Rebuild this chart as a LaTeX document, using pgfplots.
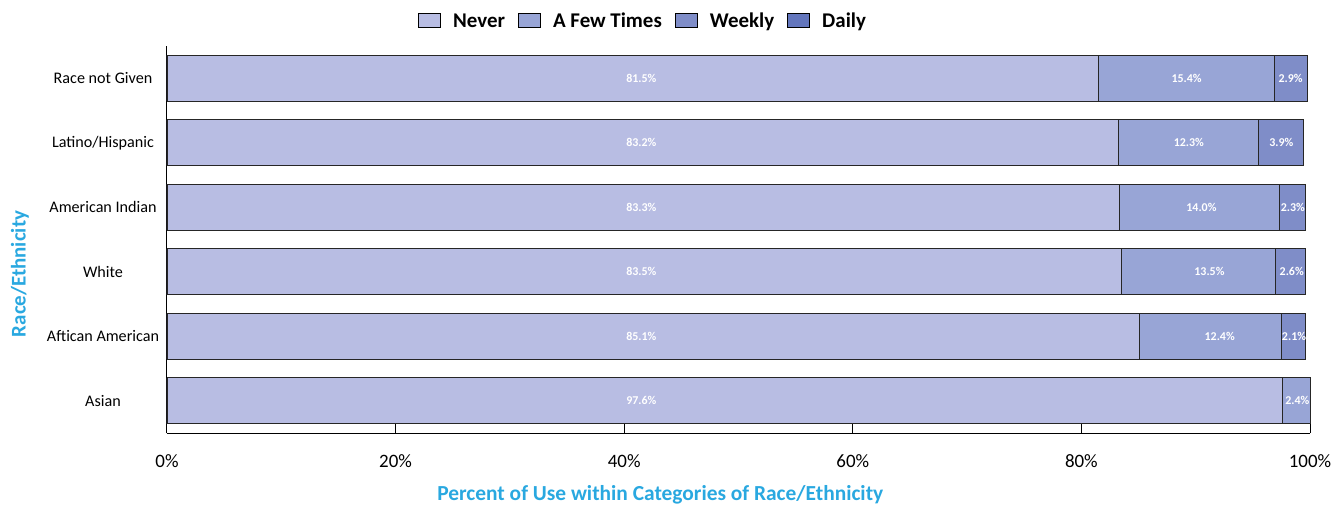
\documentclass[border=0pt]{standalone}
\usepackage{fontspec}
\setmainfont{Carlito}
\usepackage{pgfplots}
\usepackage{pgfplotstable}
\pgfplotsset{compat=1.18}

\definecolor{cNever}{HTML}{B8BDE3}
\definecolor{cFew}{HTML}{98A5D6}
\definecolor{cWeekly}{HTML}{7F8DC8}
\definecolor{cDaily}{HTML}{6376BD}
\definecolor{cBlue}{HTML}{29A8E0}

% y: 0 Asian, 1 Aftican American, 2 White, 3 American Indian, 4 Latino/Hispanic, 5 Race not Given
\pgfplotstableread{
y never few weekly
0 97.6 2.4 0
1 85.1 12.4 2.1
2 83.5 13.5 2.6
3 83.3 14.0 2.3
4 83.2 12.3 3.9
5 81.5 15.4 2.9
}\maintable

\pgfplotstableread{
x y lab
41.5 0 97.6\%
98.9 0 2.4\%
41.5 1 85.1\%
92.1 1 12.4\%
98.6 1 2.1\%
41.5 2 83.5\%
91.2 2 13.5\%
98.4 2 2.6\%
41.5 3 83.3\%
90.5 3 14.0\%
98.5 3 2.3\%
41.5 4 83.2\%
89.4 4 12.3\%
97.5 4 3.9\%
41.5 5 81.5\%
89.2 5 15.4\%
98.3 5 2.9\%
}\labeltable

\begin{document}
\begin{tikzpicture}
\begin{axis}[
  at={(0,0)}, anchor=south west,
  scale only axis, width=1143bp, height=387bp,
  xbar stacked, bar width=46bp, clip=false,
  xmin=0, xmax=100, ymin=-0.5, ymax=5.5,
  axis x line*=bottom, axis y line*=left,
  axis line style={black, line width=1bp},
  xtick={0,20,40,60,80,100},
  xticklabels={0\%,20\%,40\%,60\%,80\%,100\%},
  xticklabel style={anchor=center, yshift=-28bp, font=\fontsize{19}{22}\selectfont},
  xtick style={draw=black, line width=1bp},
  major tick length=9bp, tick align=inside,
  ytick={0,1,2,3,4,5},
  yticklabels={Asian,Aftican American,White,American Indian,Latino/Hispanic,Race not Given},
  yticklabel style={anchor=center, xshift=-64bp, font=\fontsize{16.2}{19}\selectfont},
  ytick style={draw=none},
  xlabel={Percent of Use within Categories of Race/Ethnicity},
  xlabel style={at={(axis description cs:0.4316,0)}, anchor=center, yshift=-62bp,
    font=\fontsize{21.5}{25}\selectfont\bfseries, text=cBlue},
  ylabel={Race/Ethnicity},
  ylabel style={at={(axis description cs:-0.1286,0.411)}, anchor=center,
    font=\fontsize{21}{25}\selectfont\bfseries, text=cBlue},
  legend style={at={(axis description cs:0.4165,1.0646)}, anchor=center, draw=none,
    legend columns=4, font=\fontsize{21}{25}\selectfont\bfseries,
    /tikz/every odd column/.append style={column sep=10bp},
    /tikz/every even column/.append style={column sep=11bp}},
  legend image code/.code={\draw[#1, draw=black, line width=1bp] (0bp,-7bp) rectangle (22bp,7bp);},
]
\addplot[fill=cNever, draw=black!85, line width=0.8bp] table[x=never, y=y]{\maintable};
\addlegendentry{Never\hspace{12bp}}
\addplot[fill=cFew, draw=black!85, line width=0.8bp] table[x=few, y=y]{\maintable};
\addlegendentry{A Few Times}
\addplot[fill=cWeekly, draw=black!85, line width=0.8bp] table[x=weekly, y=y]{\maintable};
\addlegendentry{Weekly}
\addlegendimage{fill=cDaily}
\addlegendentry{Daily}
\end{axis}
\begin{axis}[
  at={(0,0)}, anchor=south west,
  scale only axis, width=1143bp, height=387bp,
  xmin=0, xmax=100, ymin=-0.5, ymax=5.5,
  hide axis,
]
\addplot[only marks, mark=none, point meta=explicit symbolic,
  nodes near coords, nodes near coords align={center},
  every node near coord/.append style={font=\fontsize{12}{14}\selectfont\bfseries, text=white, inner sep=0pt}]
  table[x=x, y=y, meta=lab]{\labeltable};
\end{axis}
\pgfresetboundingbox
\useasboundingbox (-167bp,-72bp) rectangle (1164bp,433bp);
\end{tikzpicture}
\end{document}
